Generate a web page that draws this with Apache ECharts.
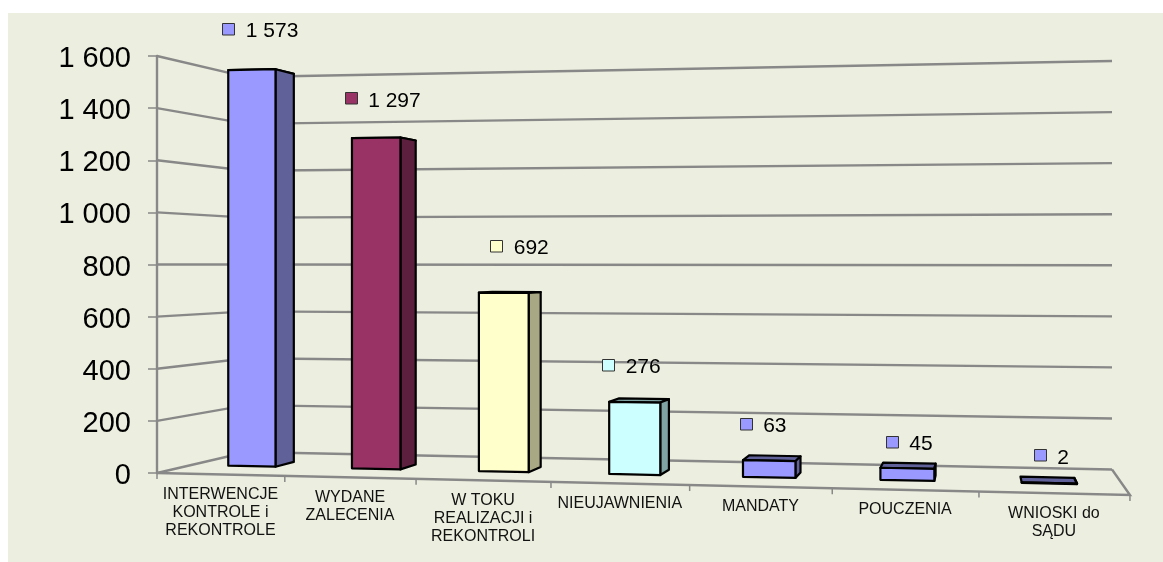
<!DOCTYPE html>
<html><head><meta charset="utf-8">
<style>html,body{margin:0;padding:0;background:#fff}#c{width:1163px;height:562px}</style>
<script src="https://cdn.jsdelivr.net/npm/echarts@6/dist/echarts.min.js"></script>
</head><body><div id="c"></div>
<script>
const categories = ['INTERWENCJE\nKONTROLE i\nREKONTROLE','WYDANE\nZALECENIA','W TOKU\nREALIZACJI i\nREKONTROLI','NIEUJAWNIENIA','MANDATY','POUCZENIA','WNIOSKI do\nSĄDU'];
const values = [1573,1297,692,276,63,45,2];
const valueTicks = [0,200,400,600,800,1000,1200,1400,1600];
const frontColors = ['#9999FF','#993366','#FFFFCC','#CCFFFF','#9999FF','#9999FF','#9999FF'];
const sideColors  = ['#616199','#5C1F3D','#A8A885','#7FA3A3','#616199','#616199','#616199'];
// label placement relative to each bar's top (hand-placed in the reference)
const labelNudgeX = [-23,-25,-7,-26,-23,-15,-9];
const labelNudgeY = [-41,-40,-47,-38,-37,-27,-28];

const LEFT=157, RIGHT=1130, TOP=56, BOTTOM=473;
const W=RIGHT-LEFT, H=BOTTOM-TOP;
// perspective of the floor plane (u along categories, d into the depth)
const G=-0.0927, HH=0.1229;
const A=868.2, B=120.4, C=-23.9, E=34.6;
const DF=0.36, DB=0.585, HALF=0.0275, SHIFT=-0.0012;
function project(u,d,t){
  const w=1+G*u+HH*d;
  const x=(A*u+B*d+LEFT)/w, y=(C*u+E*d+BOTTOM)/w;
  const hw=1-0.0912*u+0.112*d;
  return [x, y-t*H/hw];
}
const ratio=(api,v)=>(BOTTOM-api.coord([0,v])[1])/H;
const GRID='#888888';

function renderGrid(p,api){
  const t=ratio(api,api.value(0));
  const pts=[project(0,0,t),project(0,1,t),project(1,1,t)];
  return {type:'polyline',shape:{points:pts},style:{stroke:GRID,lineWidth:2.4,fill:null}};
}
function renderFloor(){
  const kids=[{type:'polyline',shape:{points:[project(0,0,0),project(1,0,0),project(1,1,0)]},style:{stroke:GRID,lineWidth:2.4,fill:null}}];
  for(let i=0;i<=categories.length;i++){
    const q=project(i/categories.length,0,0);
    kids.push({type:'line',shape:{x1:q[0],y1:q[1],x2:q[0],y2:q[1]+6},style:{stroke:GRID,lineWidth:1.5}});
  }
  return {type:'group',children:kids};
}
function renderBar(p,api){
  const i=api.value(0), t=ratio(api,api.value(1));
  const uc=(api.coord([i,0])[0]-LEFT)/W+SHIFT, u0=uc-HALF, u1=uc+HALF;
  const face=(pts,fill)=>({type:'polygon',shape:{points:pts},style:{fill,stroke:'#000',lineWidth:2.2,lineJoin:'round'}});
  return {type:'group',children:[
    face([project(u0,DF,t),project(u1,DF,t),project(u1,DB,t),project(u0,DB,t)],sideColors[i]),
    face([project(u1,DF,0),project(u1,DB,0),project(u1,DB,t),project(u1,DF,t)],sideColors[i]),
    face([project(u0,DF,0),project(u1,DF,0),project(u1,DF,t),project(u0,DF,t)],frontColors[i])
  ]};
}
function renderValue(p,api){
  const i=api.value(0), t=ratio(api,api.value(1));
  const uc=(api.coord([i,0])[0]-LEFT)/W+SHIFT;
  const q=project(uc,DF,t), x=q[0]+labelNudgeX[i], y=q[1]+labelNudgeY[i];
  const txt=String(values[i]).replace(/\B(?=(\d{3})+$)/g,' ');
  return {type:'group',children:[
    {type:'rect',shape:{x:Math.round(x-6.5)+.5,y:Math.round(y-5.5)+.5,width:12,height:11.5},style:{fill:frontColors[i],stroke:'#333',lineWidth:1}},
    {type:'text',style:{text:txt,x:x+17,y:y+3,fill:'#000',font:'21px "Liberation Sans"',align:'left',verticalAlign:'middle'}}
  ]};
}
function renderCat(p,api){
  const i=api.value(0);
  const uc=(api.coord([i,0])[0]-LEFT)/W;
  const q=project(uc,0,0);
  return {type:'text',style:{text:categories[i],x:q[0],y:q[1]+11,fill:'#111',font:'16px "Liberation Sans"',lineHeight:18,align:'center',verticalAlign:'top'}};
}

const chart=echarts.init(document.getElementById('c'),null,{renderer:'canvas'});
const barData=values.map((v,i)=>[i,v]);
chart.setOption({
  animation:false,
  backgroundColor:'#fff',
  graphic:[{type:'rect',z:-10,silent:true,shape:{x:8,y:13,width:1155,height:549},style:{fill:'#ECEFDF'}}],
  grid:{left:LEFT,top:TOP,width:W,height:H},
  xAxis:{type:'category',data:categories,show:false},
  yAxis:{type:'value',min:0,max:1600,interval:200,
    axisLine:{show:true,lineStyle:{color:GRID,width:2.4}},
    axisTick:{show:true,length:9,lineStyle:{color:GRID,width:1.5}},
    splitLine:{show:false},
    axisLabel:{fontSize:29,fontFamily:'Liberation Sans',color:'#000',margin:26,verticalAlign:'top',lineHeight:6,
      formatter:v=>String(v).replace(/\B(?=(\d{3})+$)/g,' ')}},
  series:[
    {type:'custom',name:'grid',data:valueTicks.map(v=>[v]),renderItem:renderGrid,silent:true,encode:{y:0},clip:false,z:1},
    {type:'custom',name:'floor',data:[[0]],renderItem:renderFloor,silent:true,clip:false,z:2},
    {type:'custom',name:'bars',data:barData,renderItem:renderBar,encode:{x:0,y:1},clip:false,z:3},
    {type:'custom',name:'values',data:barData,renderItem:renderValue,encode:{x:0,y:1},clip:false,z:4},
    {type:'custom',name:'cats',data:barData,renderItem:renderCat,encode:{x:0,y:1},clip:false,z:4}
  ]
});
</script></body></html>
